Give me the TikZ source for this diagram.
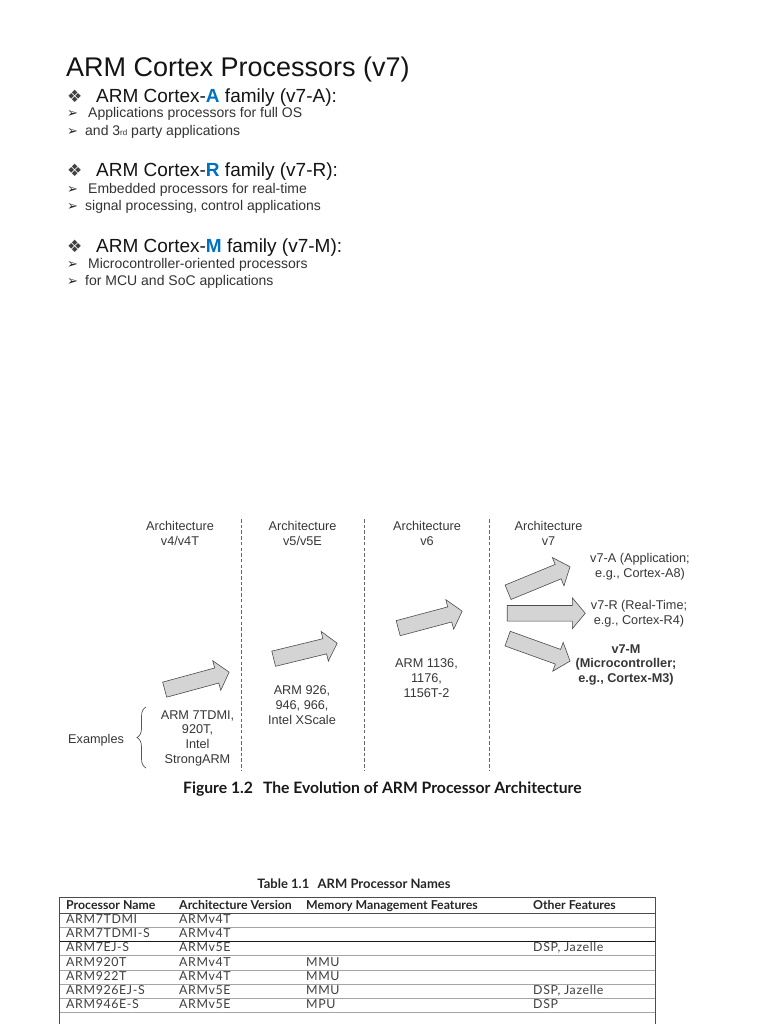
\documentclass[tikz,border=0pt]{standalone}
\usepackage{fontspec}
\setmainfont{Liberation Sans}
\newfontfamily\symfont{DejaVu Sans}
\newfontfamily\bookfont{Lato}
\newfontfamily\cellfont[LetterSpace=5]{Lato}
\usetikzlibrary{shapes.arrows,decorations.pathreplacing,positioning}
\definecolor{armblue}{RGB}{0,112,192}
\definecolor{figgray}{RGB}{55,55,55}
\definecolor{arrgray}{RGB}{212,212,212}
\definecolor{tabline}{RGB}{165,165,165}
\tikzset{
  slidetitle/.style={anchor=base west,inner sep=0pt,font=\fontsize{27}{32}\selectfont,text=black!92},
  headline/.style={anchor=base west,inner sep=0pt,font=\fontsize{19}{22}\selectfont,text=black!92},
  subline/.style={anchor=base west,inner sep=0pt,font=\fontsize{14}{16}\selectfont,text=black!80},
  dingbig/.style={anchor=base west,inner sep=0pt,font=\symfont\fontsize{17}{18}\selectfont,text=black!75},
  dingsmall/.style={anchor=base west,inner sep=0pt,font=\symfont\fontsize{13}{14}\selectfont,text=black!85},
  archlabel/.style={anchor=base,align=center,inner sep=0pt,font=\fontsize{12.7}{14.6}\selectfont,text=figgray},
  blockarr/.style={single arrow,draw=black!70,fill=arrgray,line width=0.6pt,
    inner sep=7.5pt,single arrow head extend=7.5pt,single arrow tip angle=100,minimum height=#1},
  divider/.style={draw=black!60,line width=0.8pt,dash pattern=on 3.5pt off 2.2pt},
  captext/.style={anchor=base west,inner sep=0pt,font=\bookfont\bfseries\fontsize{15.7}{18}\selectfont,text=black!90},
  cell/.style={anchor=base west,inner sep=0pt,font=\cellfont\fontsize{12.4}{13}\selectfont,text=black!75},
  headcell/.style={anchor=base west,inner sep=0pt,font=\bookfont\bfseries\fontsize{12.3}{13}\selectfont,text=black!85}
}
\begin{document}
\begin{tikzpicture}[x=1pt,y=-1pt]
  \useasboundingbox[fill=white] (0,0) rectangle (768,1024);

  % slide text
  \node[slidetitle] (title) at (66,77) {ARM Cortex Processors (v7)};

  \node[dingbig] (bulA) at (67,103) {❖};
  \node[headline] (famA) at (96,103) {ARM Cortex-{\bfseries\color{armblue}A} family (v7-A):};
  \node[dingsmall] (arA1) at (67,118) {➢};
  \node[subline] (txtA1) at (88,118) {Applications processors for full OS};
  \node[dingsmall] (arA2) at (67,136) {➢};
  \node[subline] (txtA2) at (85,136) {and 3{\fontsize{8}{9}\selectfont rd} party applications};

  \node[dingbig] (bulR) at (67,177) {❖};
  \node[headline] (famR) at (96,177) {ARM Cortex-{\bfseries\color{armblue}R} family (v7-R):};
  \node[dingsmall] (arR1) at (67,194) {➢};
  \node[subline] (txtR1) at (88,194) {Embedded processors for real-time};
  \node[dingsmall] (arR2) at (67,211) {➢};
  \node[subline] (txtR2) at (85,211) {signal processing, control applications};

  \node[dingbig] (bulM) at (67,252) {❖};
  \node[headline] (famM) at (96,252) {ARM Cortex-{\bfseries\color{armblue}M} family (v7-M):};
  \node[dingsmall] (arM1) at (67,268) {➢};
  \node[subline] (txtM1) at (88,268) {Microcontroller-oriented processors};
  \node[dingsmall] (arM2) at (67,285) {➢};
  \node[subline] (txtM2) at (85,285) {for MCU and SoC applications};

  % evolution figure
  \node[archlabel] (archA) at (180,545) {Architecture\\v4/v4T};
  \node[archlabel] (archB) at (302.5,545) {Architecture\\v5/v5E};
  \node[archlabel] (archC) at (427,545) {Architecture\\v6};
  \node[archlabel] (archD) at (548.5,545) {Architecture\\v7};

  \foreach \xx [count=\i] in {241,364,489} {
    \coordinate (divtop\i) at (\xx,519);
    \coordinate (divbot\i) at (\xx,770);
    \draw[divider] (divtop\i) -- (divbot\i);
  }

  \node[blockarr=66.8,rotate=15.2] (arrA) at (193.75,681.75) {};
  \node[blockarr=65.4,rotate=13.7] (arrB) at (302.25,651.75) {};
  \node[blockarr=66.2,rotate=14.9] (arrC) at (427,620.5) {};
  \node[blockarr=67,rotate=22.4] (arrV7A) at (536,580.75) {};
  \node[blockarr=78] (arrV7R) at (543,613.25) {};
  \node[blockarr=66.4,rotate=-19.8] (arrV7M) at (535.75,648.75) {};

  \node[archlabel] (exA) at (197.5,763) {ARM 7TDMI,\\920T,\\Intel\\StrongARM};
  \node[archlabel] (exB) at (302,724) {ARM 926,\\946, 966,\\Intel XScale};
  \node[archlabel] (exC) at (426.5,697) {ARM 1136,\\1176,\\1156T-2};
  \node[archlabel] (v7a) at (640,577) {v7-A (Application;\\e.g., Cortex-A8)};
  \node[archlabel] (v7r) at (639,624) {v7-R (Real-Time;\\e.g., Cortex-R4)};
  \node[archlabel,font=\bfseries\fontsize{12.7}{14.2}\selectfont] (v7m) at (626,682) {v7-M\\(Microcontroller;\\e.g., Cortex-M3)};

  \node[archlabel,anchor=base west] (examples) at (68,743) {Examples};
  \coordinate (brbot) at (146,768);
  \coordinate (brtop) at (146,707);
  \draw[black!65,line width=0.7pt,decorate,decoration={brace,amplitude=9pt}] (brbot) -- (brtop);

  \node[captext] (figcap) at (183,793) {Figure 1.2\hspace{0.4em} The Evolution of ARM Processor Architecture};

  % table
  \node[headcell,anchor=base,font=\bookfont\bfseries\fontsize{13}{14}\selectfont] (tabcap) at (354,888) {Table 1.1\hspace{0.4em} ARM Processor Names};
  \coordinate (tl) at (59,897);
  \coordinate (tr) at (655,897);
  \coordinate (bl) at (59,1024);
  \coordinate (br) at (655,1024);
  \foreach \k in {1,...,8} {
    \draw[tabline,line width=0.6pt] (59,913+14.2*\k) -- (655,913+14.2*\k);
  }
  \draw[black!90,line width=0.9pt] (59,913+14.2*2) -- (655,913+14.2*2);
  \draw[black!70,line width=0.9pt] (59,913) -- (655,913);
  \draw[black!70,line width=0.9pt] (bl) -- (tl) -- (tr) -- (br);

  \node[headcell] (hname) at (66,909) {Processor Name};
  \node[headcell] (harch) at (179,909) {Architecture Version};
  \node[headcell] (hmem) at (306,909) {Memory Management Features};
  \node[headcell] (hother) at (533,909) {Other Features};

  \foreach \pname/\parch/\pmem/\pother [count=\i] in {
      ARM7TDMI/ARMv4T//, ARM7TDMI-S/ARMv4T//, ARM7EJ-S/ARMv5E//{DSP, Jazelle},
      ARM920T/ARMv4T/MMU/, ARM922T/ARMv4T/MMU/, ARM926EJ-S/ARMv5E/MMU/{DSP, Jazelle},
      ARM946E-S/ARMv5E/MPU/DSP} {
    \node[cell] (pn\i) at (66,923.5+14.2*\i-14.2) {\pname};
    \node[cell] (pa\i) at (179,923.5+14.2*\i-14.2) {\parch};
    \node[cell] (pm\i) at (306,923.5+14.2*\i-14.2) {\pmem};
    \node[cell] (po\i) at (533,923.5+14.2*\i-14.2) {\pother};
  }
\end{tikzpicture}
\end{document}
